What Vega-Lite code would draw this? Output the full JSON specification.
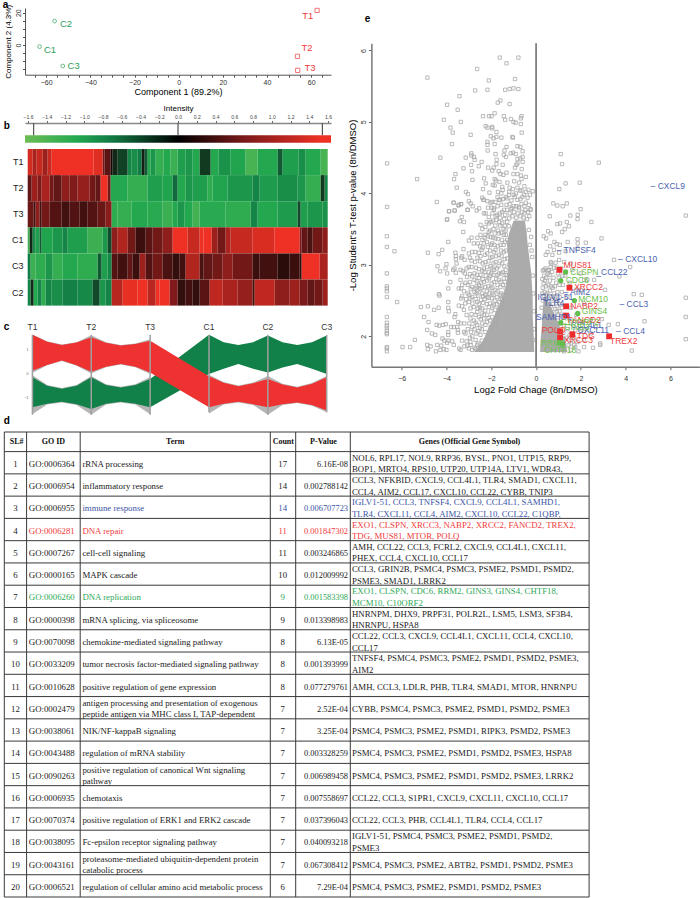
{"$schema":"https://vega.github.io/schema/vega-lite/v6.json","padding":{"left":2,"top":0,"right":0,"bottom":0},"background":"white","config":{"view":{"stroke":null},"font":"Liberation Sans","axis":{"grid":false}},
"datasets":{"tbl":[
{"t":"SL#","x":16,"p":-0.42,"a":"h","k":"n"},{"t":"GO ID","x":52.7,"p":-0.42,"a":"h","k":"n"},{"t":"Term","x":174.6,"p":-0.42,"a":"h","k":"n"},{"t":"Count","x":282.6,"p":-0.42,"a":"h","k":"n"},{"t":"P-Value","x":322.8,"p":-0.42,"a":"h","k":"n"},{"t":"Genes (Official Gene Symbol)","x":468.8,"p":-0.42,"a":"h","k":"n"},
{"t":"1","x":14.8,"p":0.55,"a":"c","k":"n"},{"t":"GO:0006364","x":28.1,"p":0.55,"a":"l","k":"n"},{"t":"rRNA processing","x":81.7,"p":0.55,"a":"l","k":"n"},{"t":"17","x":282,"p":0.55,"a":"c","k":"n"},{"t":"6.16E-08","x":347.3,"p":0.55,"a":"r","k":"n"},{"t":"NOL6, RPL17, NOL9, RRP36, BYSL, PNO1, UTP15, RRP9,","x":351.3,"p":0.28,"a":"l","k":"n"},{"t":"BOP1, MRTO4, RPS10, UTP20, UTP14A, LTV1, WDR43,","x":351.3,"p":0.8,"a":"l","k":"n"},
{"t":"2","x":14.8,"p":1.55,"a":"c","k":"n"},{"t":"GO:0006954","x":28.1,"p":1.55,"a":"l","k":"n"},{"t":"inflammatory response","x":81.7,"p":1.55,"a":"l","k":"n"},{"t":"14","x":282,"p":1.55,"a":"c","k":"n"},{"t":"0.002788142","x":347.3,"p":1.55,"a":"r","k":"n"},{"t":"CCL3, NFKBID, CXCL9, CCL4L1, TLR4, SMAD1, CXCL11,","x":351.3,"p":1.28,"a":"l","k":"n"},{"t":"CCL4, AIM2, CCL17, CXCL10, CCL22, CYBB, TNIP3","x":351.3,"p":1.8,"a":"l","k":"n"},
{"t":"3","x":14.8,"p":2.55,"a":"c","k":"n"},{"t":"GO:0006955","x":28.1,"p":2.55,"a":"l","k":"n"},{"t":"immune response","x":81.7,"p":2.55,"a":"l","k":"b"},{"t":"14","x":282,"p":2.55,"a":"c","k":"b"},{"t":"0.006707723","x":347.3,"p":2.55,"a":"r","k":"b"},{"t":"IGLV1-51, CCL3, TNFSF4, CXCL9, CCL4L1, SAMHD1,","x":351.3,"p":2.28,"a":"l","k":"b"},{"t":"TLR4, CXCL11, CCL4, AIM2, CXCL10, CCL22, C1QBP,","x":351.3,"p":2.8,"a":"l","k":"b"},
{"t":"4","x":14.8,"p":3.55,"a":"c","k":"n"},{"t":"GO:0006281","x":28.1,"p":3.55,"a":"l","k":"r"},{"t":"DNA repair","x":81.7,"p":3.55,"a":"l","k":"r"},{"t":"11","x":282,"p":3.55,"a":"c","k":"r"},{"t":"0.001847302","x":347.3,"p":3.55,"a":"r","k":"r"},{"t":"EXO1, CLSPN, XRCC3, NABP2, XRCC2, FANCD2, TREX2,","x":351.3,"p":3.28,"a":"l","k":"r"},{"t":"TDG, MUS81, MTOR, POLQ","x":351.3,"p":3.8,"a":"l","k":"r"},
{"t":"5","x":14.8,"p":4.55,"a":"c","k":"n"},{"t":"GO:0007267","x":28.1,"p":4.55,"a":"l","k":"n"},{"t":"cell-cell signaling","x":81.7,"p":4.55,"a":"l","k":"n"},{"t":"11","x":282,"p":4.55,"a":"c","k":"n"},{"t":"0.003246865","x":347.3,"p":4.55,"a":"r","k":"n"},{"t":"AMH, CCL22, CCL3, FCRL2, CXCL9, CCL4L1, CXCL11,","x":351.3,"p":4.28,"a":"l","k":"n"},{"t":"PHEX, CCL4, CXCL10, CCL17","x":351.3,"p":4.8,"a":"l","k":"n"},
{"t":"6","x":14.8,"p":5.55,"a":"c","k":"n"},{"t":"GO:0000165","x":28.1,"p":5.55,"a":"l","k":"n"},{"t":"MAPK cascade","x":81.7,"p":5.55,"a":"l","k":"n"},{"t":"10","x":282,"p":5.55,"a":"c","k":"n"},{"t":"0.012009992","x":347.3,"p":5.55,"a":"r","k":"n"},{"t":"CCL3, GRIN2B, PSMC4, PSMC3, PSME2, PSMD1, PSMD2,","x":351.3,"p":5.28,"a":"l","k":"n"},{"t":"PSME3, SMAD1, LRRK2","x":351.3,"p":5.8,"a":"l","k":"n"},
{"t":"7","x":14.8,"p":6.55,"a":"c","k":"n"},{"t":"GO:0006260","x":28.1,"p":6.55,"a":"l","k":"g"},{"t":"DNA replication","x":81.7,"p":6.55,"a":"l","k":"g"},{"t":"9","x":282,"p":6.55,"a":"c","k":"g"},{"t":"0.001583398","x":347.3,"p":6.55,"a":"r","k":"g"},{"t":"EXO1, CLSPN, CDC6, RRM2, GINS3, GINS4, CHTF18,","x":351.3,"p":6.28,"a":"l","k":"g"},{"t":"MCM10, C10ORF2","x":351.3,"p":6.8,"a":"l","k":"g"},
{"t":"8","x":14.8,"p":7.55,"a":"c","k":"n"},{"t":"GO:0000398","x":28.1,"p":7.55,"a":"l","k":"n"},{"t":"mRNA splicing, via spliceosome","x":81.7,"p":7.55,"a":"l","k":"n"},{"t":"9","x":282,"p":7.55,"a":"c","k":"n"},{"t":"0.013398983","x":347.3,"p":7.55,"a":"r","k":"n"},{"t":"HNRNPM, DHX9, PRPF31, POLR2L, LSM5, LSM3, SF3B4,","x":351.3,"p":7.28,"a":"l","k":"n"},{"t":"HNRNPU, HSPA8","x":351.3,"p":7.8,"a":"l","k":"n"},
{"t":"9","x":14.8,"p":8.55,"a":"c","k":"n"},{"t":"GO:0070098","x":28.1,"p":8.55,"a":"l","k":"n"},{"t":"chemokine-mediated signaling pathway","x":81.7,"p":8.55,"a":"l","k":"n"},{"t":"8","x":282,"p":8.55,"a":"c","k":"n"},{"t":"6.13E-05","x":347.3,"p":8.55,"a":"r","k":"n"},{"t":"CCL22, CCL3, CXCL9, CCL4L1, CXCL11, CCL4, CXCL10,","x":351.3,"p":8.28,"a":"l","k":"n"},{"t":"CCL17","x":351.3,"p":8.8,"a":"l","k":"n"},
{"t":"10","x":14.8,"p":9.55,"a":"c","k":"n"},{"t":"GO:0033209","x":28.1,"p":9.55,"a":"l","k":"n"},{"t":"tumor necrosis factor-mediated signaling pathway","x":81.7,"p":9.55,"a":"l","k":"n"},{"t":"8","x":282,"p":9.55,"a":"c","k":"n"},{"t":"0.001393999","x":347.3,"p":9.55,"a":"r","k":"n"},{"t":"TNFSF4, PSMC4, PSMC3, PSME2, PSMD1, PSMD2, PSME3,","x":351.3,"p":9.28,"a":"l","k":"n"},{"t":"AIM2","x":351.3,"p":9.8,"a":"l","k":"n"},
{"t":"11","x":14.8,"p":10.55,"a":"c","k":"n"},{"t":"GO:0010628","x":28.1,"p":10.55,"a":"l","k":"n"},{"t":"positive regulation of gene expression","x":81.7,"p":10.55,"a":"l","k":"n"},{"t":"8","x":282,"p":10.55,"a":"c","k":"n"},{"t":"0.077279761","x":347.3,"p":10.55,"a":"r","k":"n"},{"t":"AMH, CCL3, LDLR, PHB, TLR4, SMAD1, MTOR, HNRNPU","x":351.3,"p":10.55,"a":"l","k":"n"},
{"t":"12","x":14.8,"p":11.55,"a":"c","k":"n"},{"t":"GO:0002479","x":28.1,"p":11.55,"a":"l","k":"n"},{"t":"antigen processing and presentation of exogenous","x":81.7,"p":11.28,"a":"l","k":"n"},{"t":"peptide antigen via MHC class I, TAP-dependent","x":81.7,"p":11.8,"a":"l","k":"n"},{"t":"7","x":282,"p":11.55,"a":"c","k":"n"},{"t":"2.52E-04","x":347.3,"p":11.55,"a":"r","k":"n"},{"t":"CYBB, PSMC4, PSMC3, PSME2, PSMD1, PSMD2, PSME3","x":351.3,"p":11.55,"a":"l","k":"n"},
{"t":"13","x":14.8,"p":12.55,"a":"c","k":"n"},{"t":"GO:0038061","x":28.1,"p":12.55,"a":"l","k":"n"},{"t":"NIK/NF-kappaB signaling","x":81.7,"p":12.55,"a":"l","k":"n"},{"t":"7","x":282,"p":12.55,"a":"c","k":"n"},{"t":"3.25E-04","x":347.3,"p":12.55,"a":"r","k":"n"},{"t":"PSMC4, PSMC3, PSME2, PSMD1, RIPK3, PSMD2, PSME3","x":351.3,"p":12.55,"a":"l","k":"n"},
{"t":"14","x":14.8,"p":13.55,"a":"c","k":"n"},{"t":"GO:0043488","x":28.1,"p":13.55,"a":"l","k":"n"},{"t":"regulation of mRNA stability","x":81.7,"p":13.55,"a":"l","k":"n"},{"t":"7","x":282,"p":13.55,"a":"c","k":"n"},{"t":"0.003328259","x":347.3,"p":13.55,"a":"r","k":"n"},{"t":"PSMC4, PSMC3, PSME2, PSMD1, PSMD2, PSME3, HSPA8","x":351.3,"p":13.55,"a":"l","k":"n"},
{"t":"15","x":14.8,"p":14.55,"a":"c","k":"n"},{"t":"GO:0090263","x":28.1,"p":14.55,"a":"l","k":"n"},{"t":"positive regulation of canonical Wnt signaling","x":81.7,"p":14.28,"a":"l","k":"n"},{"t":"pathway","x":81.7,"p":14.8,"a":"l","k":"n"},{"t":"7","x":282,"p":14.55,"a":"c","k":"n"},{"t":"0.006989458","x":347.3,"p":14.55,"a":"r","k":"n"},{"t":"PSMC4, PSMC3, PSME2, PSMD1, PSMD2, PSME3, LRRK2","x":351.3,"p":14.55,"a":"l","k":"n"},
{"t":"16","x":14.8,"p":15.55,"a":"c","k":"n"},{"t":"GO:0006935","x":28.1,"p":15.55,"a":"l","k":"n"},{"t":"chemotaxis","x":81.7,"p":15.55,"a":"l","k":"n"},{"t":"7","x":282,"p":15.55,"a":"c","k":"n"},{"t":"0.007558697","x":347.3,"p":15.55,"a":"r","k":"n"},{"t":"CCL22, CCL3, S1PR1, CXCL9, CXCL11, CXCL10, CCL17","x":351.3,"p":15.55,"a":"l","k":"n"},
{"t":"17","x":14.8,"p":16.55,"a":"c","k":"n"},{"t":"GO:0070374","x":28.1,"p":16.55,"a":"l","k":"n"},{"t":"positive regulation of ERK1 and ERK2 cascade","x":81.7,"p":16.55,"a":"l","k":"n"},{"t":"7","x":282,"p":16.55,"a":"c","k":"n"},{"t":"0.037396043","x":347.3,"p":16.55,"a":"r","k":"n"},{"t":"CCL22, CCL3, PHB, CCL4L1, TLR4, CCL4, CCL17","x":351.3,"p":16.55,"a":"l","k":"n"},
{"t":"18","x":14.8,"p":17.55,"a":"c","k":"n"},{"t":"GO:0038095","x":28.1,"p":17.55,"a":"l","k":"n"},{"t":"Fc-epsilon receptor signaling pathway","x":81.7,"p":17.55,"a":"l","k":"n"},{"t":"7","x":282,"p":17.55,"a":"c","k":"n"},{"t":"0.040093218","x":347.3,"p":17.55,"a":"r","k":"n"},{"t":"IGLV1-51, PSMC4, PSMC3, PSME2, PSMD1, PSMD2,","x":351.3,"p":17.28,"a":"l","k":"n"},{"t":"PSME3","x":351.3,"p":17.8,"a":"l","k":"n"},
{"t":"19","x":14.8,"p":18.55,"a":"c","k":"n"},{"t":"GO:0043161","x":28.1,"p":18.55,"a":"l","k":"n"},{"t":"proteasome-mediated ubiquitin-dependent protein","x":81.7,"p":18.28,"a":"l","k":"n"},{"t":"catabolic process","x":81.7,"p":18.8,"a":"l","k":"n"},{"t":"7","x":282,"p":18.55,"a":"c","k":"n"},{"t":"0.067308412","x":347.3,"p":18.55,"a":"r","k":"n"},{"t":"PSMC4, PSMC3, PSME2, ABTB2, PSMD1, PSMD2, PSME3","x":351.3,"p":18.55,"a":"l","k":"n"},
{"t":"20","x":14.8,"p":19.55,"a":"c","k":"n"},{"t":"GO:0006521","x":28.1,"p":19.55,"a":"l","k":"n"},{"t":"regulation of cellular amino acid metabolic process","x":81.7,"p":19.55,"a":"l","k":"n"},{"t":"6","x":282,"p":19.55,"a":"c","k":"n"},{"t":"7.29E-04","x":347.3,"p":19.55,"a":"r","k":"n"},{"t":"PSMC4, PSMC3, PSME2, PSMD1, PSMD2, PSME3","x":351.3,"p":19.55,"a":"l","k":"n"}
],
"pts":[{"x":-1.62,"y":5.90},{"x":-0.79,"y":5.90},{"x":-1.32,"y":5.82},{"x":-2.63,"y":5.74},{"x":-4.85,"y":5.62},{"x":-2.11,"y":5.58},{"x":-0.94,"y":5.60},{"x":-2.72,"y":5.44},{"x":-2.17,"y":5.45},{"x":-1.38,"y":5.45},{"x":-1.18,"y":5.46},{"x":-1.01,"y":5.47},{"x":-0.79,"y":5.46},{"x":-3.42,"y":5.36},{"x":-3.97,"y":5.24},{"x":-1.71,"y":5.27},{"x":-1.59,"y":5.30},{"x":-1.18,"y":5.25},{"x":-3.50,"y":5.17},{"x":-4.12,"y":5.03},{"x":-3.36,"y":5.00},{"x":-2.37,"y":5.08},{"x":-2.10,"y":5.08},{"x":-1.99,"y":5.08},{"x":-1.85,"y":5.12},{"x":-1.44,"y":5.08},{"x":-1.38,"y":5.03},{"x":-1.12,"y":5.04},{"x":-1.01,"y":5.00},{"x":-0.91,"y":4.99},{"x":-0.68,"y":4.97},{"x":-0.65,"y":5.08},{"x":-0.68,"y":5.05},{"x":-3.82,"y":4.92},{"x":-3.72,"y":4.85},{"x":-3.76,"y":4.69},{"x":-2.92,"y":4.82},{"x":-2.25,"y":4.94},{"x":-2.17,"y":4.92},{"x":-1.96,"y":4.93},{"x":-1.96,"y":4.91},{"x":-1.77,"y":4.86},{"x":-2.02,"y":4.80},{"x":-1.90,"y":4.77},{"x":-1.77,"y":4.79},{"x":-1.55,"y":4.78},{"x":-1.06,"y":4.79},{"x":-1.03,"y":4.78},{"x":-0.64,"y":4.85},{"x":-2.17,"y":4.72},{"x":-2.17,"y":4.68},{"x":-1.85,"y":4.69},{"x":-1.32,"y":4.65},{"x":-0.83,"y":4.66},{"x":-0.70,"y":4.65},{"x":-2.16,"y":4.60},{"x":-1.81,"y":4.55},{"x":-1.44,"y":4.54},{"x":-1.41,"y":4.60},{"x":-1.34,"y":4.51},{"x":-1.13,"y":4.56},{"x":-1.03,"y":4.57},{"x":-0.91,"y":4.55},{"x":-0.60,"y":4.59},{"x":-0.71,"y":4.49},{"x":-0.60,"y":4.51},{"x":-0.83,"y":4.48},{"x":-2.89,"y":4.56},{"x":-2.89,"y":4.53},{"x":-2.77,"y":4.51},{"x":-2.74,"y":4.47},{"x":-3.14,"y":4.50},{"x":-4.27,"y":4.50},{"x":-6.65,"y":4.42},{"x":-1.76,"y":4.47},{"x":-2.43,"y":4.44},{"x":-2.90,"y":4.40},{"x":-2.56,"y":4.38},{"x":-1.77,"y":4.41},{"x":-1.49,"y":4.40},{"x":-0.83,"y":4.42},{"x":-0.88,"y":4.40},{"x":-0.94,"y":4.36},{"x":-0.60,"y":4.44},{"x":-0.64,"y":4.34},{"x":-3.24,"y":4.35},{"x":-2.86,"y":4.31},{"x":-2.14,"y":4.36},{"x":-1.89,"y":4.36},{"x":-1.96,"y":4.32},{"x":-1.67,"y":4.31},{"x":-1.59,"y":4.27},{"x":-3.60,"y":4.27},{"x":-5.31,"y":4.20},{"x":-3.66,"y":4.20},{"x":-2.84,"y":4.19},{"x":-2.32,"y":4.21},{"x":-2.25,"y":4.14},{"x":-1.85,"y":4.20},{"x":-1.79,"y":4.18},{"x":-1.63,"y":4.16},{"x":-1.32,"y":4.29},{"x":-1.46,"y":4.26},{"x":-1.01,"y":4.27},{"x":-0.83,"y":4.27},{"x":-0.68,"y":4.25},{"x":-0.46,"y":4.23},{"x":-0.65,"y":4.20},{"x":-1.28,"y":4.15},{"x":-0.98,"y":4.17},{"x":-0.76,"y":4.15},{"x":-0.52,"y":4.10},{"x":-1.93,"y":4.12},{"x":-1.85,"y":4.11},{"x":-1.51,"y":4.09},{"x":-1.18,"y":4.08},{"x":-0.83,"y":4.08},{"x":-2.37,"y":4.06},{"x":-3.13,"y":4.02},{"x":-3.04,"y":3.99},{"x":-3.54,"y":4.08},{"x":-1.70,"y":4.02},{"x":-1.49,"y":4.05},{"x":-1.04,"y":4.06},{"x":-0.65,"y":4.04},{"x":-0.34,"y":4.05},{"x":-0.15,"y":4.03},{"x":-0.27,"y":3.98},{"x":-2.08,"y":4.01},{"x":-4.43,"y":3.88},{"x":-3.68,"y":3.87},{"x":-3.36,"y":3.85},{"x":-3.46,"y":3.84},{"x":-3.88,"y":3.75},{"x":-3.63,"y":3.76},{"x":-6.65,"y":3.81},{"x":-3.00,"y":3.89},{"x":-2.92,"y":3.86},{"x":-2.83,"y":3.82},{"x":-3.05,"y":3.77},{"x":-2.65,"y":3.76},{"x":-2.54,"y":3.79},{"x":-2.40,"y":3.94},{"x":-2.35,"y":3.91},{"x":-2.17,"y":3.89},{"x":-1.95,"y":3.88},{"x":-1.65,"y":3.91},{"x":-1.35,"y":3.95},{"x":-1.21,"y":3.98},{"x":-0.83,"y":3.91},{"x":-0.61,"y":3.95},{"x":-0.46,"y":3.87},{"x":-1.88,"y":3.79},{"x":-1.43,"y":3.77},{"x":-1.13,"y":3.78},{"x":-0.76,"y":3.79},{"x":-0.24,"y":3.78},{"x":-2.25,"y":3.72},{"x":-1.80,"y":3.68},{"x":-3.32,"y":3.67},{"x":-3.97,"y":3.64},
{"x":1.10,"y":4.55},{"x":1.16,"y":4.41},{"x":2.80,"y":4.43},{"x":1.32,"y":4.14},{"x":1.95,"y":4.15},{"x":1.04,"y":4.06},{"x":0.77,"y":3.86},{"x":0.95,"y":3.83},{"x":1.19,"y":3.82},{"x":1.37,"y":3.86},{"x":1.99,"y":3.78},{"x":1.86,"y":3.70},{"x":1.53,"y":3.69},{"x":0.61,"y":3.68},{"x":6.68,"y":3.69},
{"x":0.95,"y":3.57},{"x":1.07,"y":3.58},{"x":1.37,"y":3.60},{"x":1.85,"y":3.64},{"x":2.47,"y":3.60},{"x":1.47,"y":3.54},{"x":1.28,"y":3.50},{"x":1.16,"y":3.46},{"x":0.54,"y":3.47},{"x":0.65,"y":3.44},{"x":0.34,"y":3.40},{"x":0.45,"y":3.37},{"x":0.82,"y":3.32},{"x":0.92,"y":3.29},{"x":1.06,"y":3.28},{"x":1.41,"y":3.32},{"x":1.85,"y":3.36},{"x":1.86,"y":3.30},{"x":2.22,"y":3.31},{"x":2.92,"y":3.37},{"x":1.32,"y":3.19},{"x":1.85,"y":3.23},{"x":0.63,"y":3.26},{"x":0.80,"y":3.21},{"x":0.51,"y":3.18},{"x":0.43,"y":3.14},{"x":0.73,"y":3.14},{"x":1.03,"y":3.17},{"x":3.48,"y":3.07},{"x":4.20,"y":2.97},{"x":3.72,"y":2.84},{"x":2.59,"y":2.79},{"x":3.08,"y":2.65},{"x":4.36,"y":2.59},{"x":4.72,"y":2.58},{"x":6.68,"y":2.54},{"x":6.68,"y":2.27},{"x":6.68,"y":1.96},{"x":4.84,"y":2.21},{"x":3.65,"y":2.17},{"x":3.24,"y":2.16},{"x":2.93,"y":2.24},{"x":2.86,"y":1.90},{"x":2.86,"y":1.88},{"x":2.54,"y":1.84},{"x":4.27,"y":1.80},{"x":1.89,"y":1.79},{"x":1.55,"y":1.81},{"x":2.14,"y":2.46},{"x":1.99,"y":2.65},{"x":2.14,"y":2.79},{"x":1.55,"y":3.02},{"x":1.25,"y":3.04},{"x":1.03,"y":3.07},{"x":0.65,"y":3.04},{"x":0.36,"y":2.93},{"x":0.51,"y":2.92},{"x":0.65,"y":2.97},{"x":1.62,"y":2.93},{"x":1.99,"y":2.88},{"x":2.29,"y":2.79},{"x":2.44,"y":2.23},{"x":2.66,"y":2.13},{"x":2.14,"y":2.06},{"x":2.44,"y":2.04},{"x":2.14,"y":1.95},{"x":1.70,"y":1.88},{"x":2.14,"y":1.85},{"x":1.25,"y":1.79},{"x":1.55,"y":1.95},
{"x":0.30,"y":2.92},{"x":0.36,"y":2.85},{"x":0.42,"y":2.95},{"x":0.45,"y":2.82},{"x":0.52,"y":2.88},{"x":0.57,"y":2.93},{"x":0.62,"y":2.78},{"x":0.68,"y":3.02},{"x":0.72,"y":2.9},{"x":0.78,"y":2.82},{"x":0.80,"y":2.96},{"x":0.87,"y":3.03},{"x":0.9,"y":2.75},{"x":0.98,"y":2.88},{"x":1.05,"y":2.72},{"x":0.3,"y":2.68},{"x":0.38,"y":2.62},{"x":0.44,"y":2.7},{"x":0.5,"y":2.6},{"x":0.55,"y":2.72},{"x":0.62,"y":2.64},{"x":0.68,"y":2.55},{"x":0.74,"y":2.68},{"x":0.8,"y":2.6},{"x":0.88,"y":2.5},{"x":0.95,"y":2.62},{"x":1.05,"y":2.55},{"x":1.15,"y":2.62},{"x":0.3,"y":2.5},{"x":0.42,"y":2.52},{"x":0.55,"y":2.45},{"x":0.65,"y":2.42},{"x":0.75,"y":2.45},{"x":0.85,"y":2.38},{"x":0.95,"y":2.42},{"x":1.05,"y":2.35},{"x":1.15,"y":2.4},{"x":1.25,"y":2.3},{"x":0.95,"y":2.22},{"x":1.1,"y":2.18},{"x":1.25,"y":2.15},{"x":1.4,"y":2.1},{"x":1.5,"y":2.02},{"x":1.6,"y":2.22},{"x":1.75,"y":2.08},{"x":1.85,"y":1.92},{"x":1.7,"y":1.98},{"x":2.0,"y":2.1},{"x":1.55,"y":1.9},{"x":1.75,"y":1.85},{"x":2.05,"y":2.2},{"x":1.2,"y":2.72},{"x":1.4,"y":2.55},{"x":1.55,"y":2.4},{"x":1.8,"y":2.3},{"x":1.3,"y":2.85},{"x":1.5,"y":2.75},{"x":1.8,"y":2.65},
{"x":-6.66,"y":3.40},{"x":-6.66,"y":3.25},{"x":-6.32,"y":3.19},{"x":-6.66,"y":2.88},{"x":-6.66,"y":2.70},{"x":-6.66,"y":2.67},{"x":-6.66,"y":2.63},{"x":-6.66,"y":2.55},{"x":-6.20,"y":2.48},{"x":-6.66,"y":2.27},{"x":-6.66,"y":2.19},{"x":-6.66,"y":2.15},{"x":-6.66,"y":2.12},{"x":-6.66,"y":2.08},{"x":-6.66,"y":2.05},{"x":-6.66,"y":2.03},{"x":-6.66,"y":1.85},{"x":-6.66,"y":1.83},{"x":-6.66,"y":1.79},{"x":-5.96,"y":1.85},{"x":-5.62,"y":1.85},{"x":-5.41,"y":1.95},{"x":-3.98,"y":3.63},{"x":-3.89,"y":3.75},{"x":-3.68,"y":3.87},{"x":-3.64,"y":3.76},{"x":-3.46,"y":3.83},{"x":-3.34,"y":3.85},{"x":-3.40,"y":3.61},{"x":-3.22,"y":3.60},{"x":-3.06,"y":3.77},{"x":-3.25,"y":3.46},{"x":-3.92,"y":3.32},{"x":-4.83,"y":3.17},{"x":-4.19,"y":3.21},{"x":-4.35,"y":3.15},{"x":-3.24,"y":3.22},{"x":-3.00,"y":3.34},{"x":-2.88,"y":3.38},{"x":-4.40,"y":2.98},{"x":-4.28,"y":2.91},{"x":-4.00,"y":3.01},{"x":-4.04,"y":2.95},{"x":-3.97,"y":2.88},{"x":-3.83,"y":2.76},{"x":-3.92,"y":2.67},{"x":-4.34,"y":2.59},{"x":-4.31,"y":2.57},{"x":-3.92,"y":2.48},{"x":-5.14,"y":2.41},{"x":-4.83,"y":2.42},{"x":-4.35,"y":2.40},{"x":-4.55,"y":2.37},{"x":-3.92,"y":2.40},{"x":-3.89,"y":2.35},{"x":-5.00,"y":2.27},{"x":-4.80,"y":2.20},{"x":-4.86,"y":2.09},{"x":-4.65,"y":2.04},{"x":-4.50,"y":2.02},{"x":-4.44,"y":2.16},{"x":-4.32,"y":2.15},{"x":-4.15,"y":2.16},{"x":-4.03,"y":2.17},{"x":-4.86,"y":1.88},{"x":-4.71,"y":1.86},{"x":-4.83,"y":1.82},{"x":-4.47,"y":1.79},{"x":-4.41,"y":1.88},{"x":-4.23,"y":1.87},{"x":-4.27,"y":1.81},{"x":-4.12,"y":1.82},{"x":-4.00,"y":1.81},{"x":-4.18,"y":1.97},{"x":-4.09,"y":1.94},{"x":-3.92,"y":2.06},{"x":-3.92,"y":2.02},{"x":-3.91,"y":1.94},{"x":-3.97,"y":1.91},{"x":-3.79,"y":2.13},{"x":-3.74,"y":1.93},{"x":-3.67,"y":1.88},{"x":-3.67,"y":2.13},{"x":-3.60,"y":2.31},{"x":-3.64,"y":2.27},{"x":-3.48,"y":2.20},{"x":-3.52,"y":2.13},{"x":-3.49,"y":2.09},{"x":-3.37,"y":2.18},{"x":-3.37,"y":1.81},{"x":-3.43,"y":1.83},{"x":-3.49,"y":2.05},{"x":-3.22,"y":2.06},{"x":-3.15,"y":2.04},{"x":-3.30,"y":1.94},{"x":-3.07,"y":1.87},{"x":-2.93,"y":1.92},{"x":-2.85,"y":1.81},{"x":-2.75,"y":1.84},{"x":-2.63,"y":1.88},{"x":-2.48,"y":1.85},
{"x":-3.60,"y":3.17},{"x":-3.58,"y":3.12},{"x":-3.58,"y":3.08},{"x":-3.55,"y":3.02},{"x":-3.34,"y":3.10},{"x":-3.30,"y":3.12},{"x":-3.19,"y":3.07},{"x":-3.00,"y":3.16},{"x":-2.88,"y":3.06},{"x":-2.85,"y":3.18},{"x":-2.55,"y":3.17},{"x":-2.43,"y":3.21},{"x":-3.70,"y":2.93},{"x":-3.64,"y":2.95},{"x":-3.58,"y":2.89},{"x":-3.37,"y":2.93},{"x":-3.27,"y":2.91},{"x":-3.18,"y":2.88},{"x":-3.00,"y":2.97},{"x":-2.88,"y":2.97},{"x":-2.95,"y":2.87},{"x":-2.85,"y":2.84},{"x":-2.63,"y":2.86},{"x":-2.55,"y":2.82},{"x":-3.37,"y":2.79},{"x":-3.30,"y":2.72},{"x":-3.45,"y":2.67},{"x":-3.34,"y":2.67},{"x":-2.85,"y":2.69},{"x":-2.75,"y":2.79},{"x":-2.70,"y":2.67},{"x":-2.55,"y":2.72},{"x":-2.48,"y":2.66},{"x":-2.33,"y":2.76},{"x":-2.26,"y":2.69},{"x":-3.30,"y":2.56},{"x":-3.34,"y":2.53},{"x":-2.93,"y":2.53},{"x":-3.00,"y":2.48},{"x":-2.85,"y":2.55},{"x":-2.66,"y":2.60},{"x":-2.63,"y":2.48},{"x":-2.45,"y":2.51},{"x":-2.26,"y":2.58},{"x":-3.45,"y":2.43},{"x":-3.30,"y":2.42},{"x":-3.22,"y":2.37},{"x":-2.93,"y":2.39},{"x":-2.78,"y":2.41},{"x":-2.63,"y":2.34},{"x":-2.40,"y":2.39},{"x":-2.93,"y":2.25},{"x":-2.78,"y":2.22},{"x":-2.55,"y":2.27},{"x":-2.33,"y":2.30},{"x":-2.85,"y":2.13},{"x":-2.63,"y":2.16},{"x":-2.40,"y":2.18},{"x":-2.18,"y":2.20},{"x":-2.85,"y":2.00},{"x":-2.66,"y":2.04},{"x":-2.48,"y":2.02},{"x":-2.26,"y":2.06},
{"x":-2.48,"y":3.42},{"x":-2.26,"y":3.42},{"x":-2.11,"y":3.46},{"x":-2.03,"y":3.39},{"x":-2.78,"y":3.30},{"x":-2.60,"y":3.30},{"x":-2.33,"y":3.30},{"x":-2.15,"y":3.25},{"x":-1.96,"y":3.30},{"x":-1.81,"y":3.37},{"x":-1.66,"y":3.44},{"x":-1.44,"y":3.42},{"x":-1.29,"y":3.35},{"x":-1.59,"y":3.28},{"x":-1.81,"y":3.21},{"x":-2.18,"y":3.16},{"x":-1.96,"y":3.11},{"x":-1.66,"y":3.14},{"x":-1.44,"y":3.18},{"x":-2.26,"y":3.04},{"x":-2.03,"y":2.98},{"x":-1.81,"y":3.04},{"x":-1.51,"y":3.02},{"x":-1.29,"y":3.09},{"x":-2.33,"y":2.95},{"x":-2.11,"y":2.90},{"x":-1.88,"y":2.93},{"x":-1.66,"y":2.88},{"x":-1.36,"y":2.93},{"x":-1.21,"y":3.00},{"x":-2.11,"y":2.81},{"x":-1.88,"y":2.76},{"x":-1.66,"y":2.79},{"x":-1.44,"y":2.81},{"x":-1.21,"y":2.79},{"x":-2.03,"y":2.67},{"x":-1.81,"y":2.65},{"x":-1.59,"y":2.69},{"x":-1.36,"y":2.67},{"x":-2.18,"y":2.55},{"x":-1.96,"y":2.53},{"x":-1.73,"y":2.55},{"x":-1.51,"y":2.51},{"x":-2.11,"y":2.41},{"x":-1.88,"y":2.44},{"x":-1.66,"y":2.39},{"x":-2.18,"y":2.30},{"x":-1.96,"y":2.27},{"x":-1.73,"y":2.31},{"x":-2.26,"y":2.16},{"x":-2.03,"y":2.13},{"x":-1.81,"y":2.16},
{"x":-2.33,"y":3.91},{"x":-2.03,"y":3.87},{"x":-1.81,"y":3.88},{"x":-1.59,"y":3.91},{"x":-1.29,"y":3.93},{"x":-1.0,"y":3.98},{"x":-2.33,"y":3.72},{"x":-2.11,"y":3.67},{"x":-1.88,"y":3.77},{"x":-1.73,"y":3.70},{"x":-1.51,"y":3.74},{"x":-1.29,"y":3.77},{"x":-1.06,"y":3.79},{"x":-0.77,"y":3.81},{"x":-0.47,"y":3.77},{"x":-0.25,"y":3.77},{"x":-2.0,"y":3.60},{"x":-1.77,"y":3.63},{"x":-1.51,"y":3.58},{"x":-1.29,"y":3.60},{"x":-2.48,"y":3.56},{"x":-2.26,"y":3.53},{"x":-0.32,"y":3.49},{"x":-0.22,"y":3.39},{"x":-0.28,"y":3.28},{"x":-0.17,"y":3.11},{"x":-1.6,"y":3.55},{"x":-1.45,"y":3.5},{"x":-1.7,"y":3.48},{"x":-1.9,"y":3.5},{"x":-2.2,"y":3.6},{"x":-2.4,"y":3.35},{"x":-2.05,"y":3.2},{"x":-2.5,"y":3.05},{"x":-2.4,"y":2.92},{"x":-2.25,"y":2.85},{"x":-2.45,"y":2.75},{"x":-2.0,"y":2.88},{"x":-1.75,"y":2.95},{"x":-1.55,"y":2.88},{"x":-1.95,"y":2.6},{"x":-1.75,"y":2.45},{"x":-1.55,"y":2.6},{"x":-1.5,"y":2.4},{"x":-2.4,"y":2.6},{"x":-2.2,"y":2.45},{"x":-2.0,"y":2.35},{"x":-2.05,"y":2.22},{"x":-2.5,"y":2.4},{"x":-2.65,"y":2.7},{"x":-3.05,"y":2.6},{"x":-3.15,"y":2.75},{"x":-3.1,"y":2.3},{"x":-3.2,"y":2.18},{"x":-3.05,"y":2.1},{"x":-2.7,"y":2.3},{"x":-2.5,"y":2.12},{"x":-2.95,"y":1.98},{"x":-2.7,"y":1.95},{"x":-3.1,"y":1.93},{"x":-0.12,"y":2.6},{"x":-0.1,"y":2.35},{"x":-0.08,"y":2.1},{"x":-0.15,"y":2.85},{"x":-0.2,"y":3.2},{"x":-0.13,"y":1.95},
{"x":-3.2,"y":1.86},{"x":-3.0,"y":1.83},{"x":-2.92,"y":1.88},{"x":-2.7,"y":1.82},{"x":-2.58,"y":1.9},{"x":-2.42,"y":1.94},{"x":-2.9,"y":2.06},{"x":-2.75,"y":2.1},{"x":-2.58,"y":2.07},{"x":-2.42,"y":2.1},{"x":-2.98,"y":2.18},{"x":-2.7,"y":2.19},{"x":-2.47,"y":2.24},{"x":-2.32,"y":2.25},{"x":-2.12,"y":2.26},{"x":-2.88,"y":2.31},{"x":-2.6,"y":2.39},{"x":-2.42,"y":2.32},{"x":-2.27,"y":2.36},{"x":-2.06,"y":2.46},{"x":-1.95,"y":2.42},{"x":-1.82,"y":2.37},{"x":-3.16,"y":2.46},{"x":-2.84,"y":2.46},{"x":-2.7,"y":2.52},{"x":-2.55,"y":2.45},{"x":-2.36,"y":2.47},{"x":-2.29,"y":2.52},{"x":-2.12,"y":2.54},{"x":-1.85,"y":2.5},{"x":-1.65,"y":2.48},{"x":-1.58,"y":2.52},{"x":-3.12,"y":2.52},{"x":-2.98,"y":2.58},{"x":-2.75,"y":2.62},{"x":-2.58,"y":2.57},{"x":-2.36,"y":2.56},{"x":-2.2,"y":2.63},{"x":-2.08,"y":2.6},{"x":-1.9,"y":2.58},{"x":-1.72,"y":2.63},{"x":-1.62,"y":2.58},{"x":-1.45,"y":2.58},{"x":-3.22,"y":2.63},{"x":-2.92,"y":2.66},{"x":-2.62,"y":2.64},{"x":-2.42,"y":2.68},{"x":-2.14,"y":2.7},{"x":-1.95,"y":2.68},{"x":-1.72,"y":2.72},{"x":-1.48,"y":2.72},{"x":-1.4,"y":2.76},{"x":-3.05,"y":2.72},{"x":-2.95,"y":2.76},{"x":-2.65,"y":2.77},{"x":-2.38,"y":2.8},{"x":-2.18,"y":2.78},{"x":-1.98,"y":2.74},{"x":-1.78,"y":2.8},{"x":-1.58,"y":2.76},{"x":-1.35,"y":2.86},{"x":-3.08,"y":2.83},{"x":-2.75,"y":2.88},{"x":-2.48,"y":2.86},{"x":-2.3,"y":2.9},{"x":-2.05,"y":2.84},{"x":-1.9,"y":2.86},{"x":-1.72,"y":2.86},{"x":-1.48,"y":2.9},{"x":-1.28,"y":2.86},{"x":-3.1,"y":2.95},{"x":-2.68,"y":2.96},{"x":-2.55,"y":2.94},{"x":-2.18,"y":2.97},{"x":-1.95,"y":2.95},{"x":-1.68,"y":2.98},{"x":-1.42,"y":2.98},{"x":-2.95,"y":3.1},{"x":-2.72,"y":3.04},{"x":-2.62,"y":3.1},{"x":-2.38,"y":3.02},{"x":-2.12,"y":3.05},{"x":-1.9,"y":3.02},{"x":-1.62,"y":3.05},{"x":-1.4,"y":3.08},{"x":-2.72,"y":3.18},{"x":-2.48,"y":3.12},{"x":-2.28,"y":3.14},{"x":-2.04,"y":3.1},{"x":-1.78,"y":3.12},{"x":-1.54,"y":3.12},{"x":-1.88,"y":3.18},{"x":-1.56,"y":3.2},{"x":-1.35,"y":3.2},{"x":-2.5,"y":3.26},{"x":-2.38,"y":3.24},{"x":-2.2,"y":3.32},{"x":-2.02,"y":3.28},{"x":-1.86,"y":3.28},{"x":-1.7,"y":3.26},{"x":-1.45,"y":3.28},{"x":-1.38,"y":3.32},{"x":-2.62,"y":3.38},{"x":-2.3,"y":3.38},{"x":-2.15,"y":3.4},{"x":-1.92,"y":3.38},{"x":-1.7,"y":3.36},{"x":-1.52,"y":3.35},{"x":-1.35,"y":3.42},{"x":-2.05,"y":3.48},{"x":-1.85,"y":3.44},{"x":-1.55,"y":3.45},{"x":-1.36,"y":3.48},{"x":-2.4,"y":3.5},{"x":-1.82,"y":3.55},{"x":-1.65,"y":3.6},{"x":-1.4,"y":3.55},{"x":-1.22,"y":3.54},{"x":-2.1,"y":3.58},{"x":-1.92,"y":3.62},{"x":-1.6,"y":3.66},{"x":-1.42,"y":3.64},{"x":-1.2,"y":3.65},{"x":-1.05,"y":3.68},{"x":-0.88,"y":3.66},{"x":-0.7,"y":3.68},{"x":-0.56,"y":3.66},{"x":-0.4,"y":3.64},{"x":-0.3,"y":3.68},{"x":-1.95,"y":3.72},{"x":-1.62,"y":3.72},{"x":-1.38,"y":3.7},{"x":-1.18,"y":3.72},{"x":-0.98,"y":3.74},{"x":-0.82,"y":3.72},{"x":-0.62,"y":3.74},{"x":-0.52,"y":3.72},{"x":-0.36,"y":3.74},{"x":-2.15,"y":3.8},{"x":-1.98,"y":3.8},{"x":-1.72,"y":3.82},{"x":-1.55,"y":3.84},{"x":-1.32,"y":3.84},{"x":-1.18,"y":3.85},{"x":-1.0,"y":3.82},{"x":-0.88,"y":3.82},{"x":-0.65,"y":3.85},{"x":-0.52,"y":3.82},{"x":-0.32,"y":3.84},{"x":-1.72,"y":3.95},{"x":-1.48,"y":3.92},{"x":-1.1,"y":3.9},{"x":-0.95,"y":3.95},{"x":-0.7,"y":3.92},{"x":-0.54,"y":3.98},{"x":-0.38,"y":3.94},{"x":-1.55,"y":4.0},{"x":-1.2,"y":4.02},{"x":-0.9,"y":4.0},{"x":-0.72,"y":4.04},{"x":-0.45,"y":4.02},
{"x":0.28,"y":2.6},{"x":0.35,"y":2.56},{"x":0.46,"y":2.58},{"x":0.6,"y":2.56},{"x":0.72,"y":2.52},{"x":0.85,"y":2.56},{"x":0.95,"y":2.5},{"x":1.05,"y":2.45},{"x":1.0,"y":2.3},{"x":1.15,"y":2.28},{"x":0.92,"y":2.35},{"x":1.22,"y":2.05},{"x":1.35,"y":1.98},{"x":1.45,"y":1.88},{"x":0.34,"y":2.74},{"x":0.4,"y":2.78},{"x":0.28,"y":2.8},{"x":0.66,"y":2.7},{"x":0.84,"y":2.7},{"x":1.02,"y":2.82},{"x":1.12,"y":2.95},{"x":1.18,"y":2.85},{"x":0.6,"y":2.86},{"x":0.92,"y":2.96},{"x":0.25,"y":2.4}],
"hm":[{"r":"T1","a":0,"b":5,"v":1.2},{"r":"T1","a":5,"b":9,"v":0.9},{"r":"T1","a":9,"b":15,"v":1.1},{"r":"T1","a":15,"b":20,"v":0.8},{"r":"T1","a":20,"b":24,"v":1.1},{"r":"T1","a":24,"b":66,"v":1.55},{"r":"T1","a":66,"b":75,"v":1.3},{"r":"T1","a":75,"b":77,"v":0.5},{"r":"T1","a":77,"b":83,"v":0.35},{"r":"T1","a":83,"b":85,"v":-0.1},{"r":"T1","a":85,"b":90,"v":-0.3},{"r":"T1","a":90,"b":100,"v":-0.45},{"r":"T1","a":100,"b":104,"v":-0.9},{"r":"T1","a":104,"b":110,"v":-1.0},{"r":"T1","a":110,"b":114,"v":-0.8},{"r":"T1","a":114,"b":117,"v":-0.25},{"r":"T1","a":117,"b":120,"v":-0.6},{"r":"T1","a":120,"b":123,"v":-1.3},{"r":"T1","a":123,"b":128,"v":-1.1},{"r":"T1","a":128,"b":136,"v":-1.45},{"r":"T1","a":136,"b":143,"v":-1.3},{"r":"T1","a":143,"b":150,"v":-1.5},{"r":"T1","a":150,"b":158,"v":-1.2},{"r":"T1","a":158,"b":165,"v":-1.1},{"r":"T1","a":165,"b":172,"v":-1.3},{"r":"T1","a":172,"b":183,"v":-0.4},{"r":"T1","a":183,"b":191,"v":-1.3},{"r":"T1","a":191,"b":203,"v":-1.05},{"r":"T1","a":203,"b":218,"v":-1.25},{"r":"T1","a":218,"b":230,"v":-1.6},{"r":"T1","a":230,"b":250,"v":-1.3},{"r":"T1","a":250,"b":255,"v":-0.6},{"r":"T1","a":255,"b":271,"v":-1.2},{"r":"T1","a":271,"b":278,"v":-1.0},{"r":"T1","a":278,"b":293,"v":-1.3},{"r":"T1","a":293,"b":300,"v":-1.6},
{"r":"T2","a":0,"b":4,"v":0.4},{"r":"T2","a":4,"b":10,"v":0.8},{"r":"T2","a":10,"b":14,"v":0.6},{"r":"T2","a":14,"b":22,"v":0.9},{"r":"T2","a":22,"b":26,"v":0.5},{"r":"T2","a":26,"b":34,"v":0.4},{"r":"T2","a":34,"b":42,"v":0.7},{"r":"T2","a":42,"b":50,"v":0.6},{"r":"T2","a":50,"b":62,"v":0.75},{"r":"T2","a":62,"b":68,"v":0.5},{"r":"T2","a":68,"b":73,"v":0.4},{"r":"T2","a":73,"b":80,"v":1.55},{"r":"T2","a":80,"b":83,"v":0.5},{"r":"T2","a":83,"b":100,"v":-1.3},{"r":"T2","a":100,"b":120,"v":-1.45},{"r":"T2","a":120,"b":135,"v":-1.2},{"r":"T2","a":135,"b":145,"v":-1.25},{"r":"T2","a":145,"b":150,"v":-0.7},{"r":"T2","a":150,"b":158,"v":-1.3},{"r":"T2","a":158,"b":165,"v":-1.1},{"r":"T2","a":165,"b":180,"v":-1.2},{"r":"T2","a":180,"b":185,"v":-1.4},{"r":"T2","a":185,"b":200,"v":-1.25},{"r":"T2","a":200,"b":225,"v":-1.1},{"r":"T2","a":225,"b":232,"v":-0.9},{"r":"T2","a":232,"b":250,"v":-1.15},{"r":"T2","a":250,"b":270,"v":-1.0},{"r":"T2","a":270,"b":278,"v":-1.1},{"r":"T2","a":278,"b":293,"v":-1.45},{"r":"T2","a":293,"b":297,"v":-0.4},{"r":"T2","a":297,"b":300,"v":-0.9},
{"r":"T3","a":0,"b":6,"v":0.45},{"r":"T3","a":6,"b":8,"v":0.2},{"r":"T3","a":8,"b":12,"v":0.7},{"r":"T3","a":12,"b":14,"v":0.2},{"r":"T3","a":14,"b":22,"v":0.5},{"r":"T3","a":22,"b":34,"v":0.3},{"r":"T3","a":34,"b":42,"v":0.2},{"r":"T3","a":42,"b":52,"v":0.3},{"r":"T3","a":52,"b":60,"v":0.2},{"r":"T3","a":60,"b":70,"v":0.3},{"r":"T3","a":70,"b":78,"v":0.45},{"r":"T3","a":78,"b":84,"v":0.65},{"r":"T3","a":84,"b":90,"v":-1.4},{"r":"T3","a":90,"b":104,"v":-1.45},{"r":"T3","a":104,"b":120,"v":-1.3},{"r":"T3","a":120,"b":135,"v":-1.35},{"r":"T3","a":135,"b":145,"v":-1.5},{"r":"T3","a":145,"b":150,"v":-1.3},{"r":"T3","a":150,"b":157,"v":-1.1},{"r":"T3","a":157,"b":165,"v":-1.3},{"r":"T3","a":165,"b":172,"v":-1.55},{"r":"T3","a":172,"b":198,"v":-1.35},{"r":"T3","a":198,"b":223,"v":-1.4},{"r":"T3","a":223,"b":230,"v":-0.9},{"r":"T3","a":230,"b":250,"v":-1.3},{"r":"T3","a":250,"b":270,"v":-1.15},{"r":"T3","a":270,"b":273,"v":-0.5},{"r":"T3","a":273,"b":280,"v":-1.2},{"r":"T3","a":280,"b":295,"v":-1.1},{"r":"T3","a":295,"b":300,"v":-1.05},
{"r":"C1","a":0,"b":2,"v":-1.6},{"r":"C1","a":2,"b":5,"v":-0.3},{"r":"C1","a":5,"b":8,"v":-1},{"r":"C1","a":8,"b":12,"v":-1.2},{"r":"C1","a":12,"b":14,"v":-0.6},{"r":"C1","a":14,"b":25,"v":-1.25},{"r":"C1","a":25,"b":35,"v":-1.1},{"r":"C1","a":35,"b":40,"v":-0.9},{"r":"C1","a":40,"b":60,"v":-1.2},{"r":"C1","a":60,"b":75,"v":-1.5},{"r":"C1","a":75,"b":80,"v":-1.1},{"r":"C1","a":80,"b":84,"v":-0.5},{"r":"C1","a":84,"b":90,"v":0.7},{"r":"C1","a":90,"b":100,"v":0.95},{"r":"C1","a":100,"b":108,"v":0.5},{"r":"C1","a":108,"b":118,"v":0.15},{"r":"C1","a":118,"b":125,"v":0.35},{"r":"C1","a":125,"b":135,"v":0.5},{"r":"C1","a":135,"b":145,"v":0.7},{"r":"C1","a":145,"b":160,"v":1.55},{"r":"C1","a":160,"b":172,"v":1.1},{"r":"C1","a":172,"b":176,"v":1.5},{"r":"C1","a":176,"b":184,"v":1.55},{"r":"C1","a":184,"b":190,"v":0.8},{"r":"C1","a":190,"b":198,"v":0.5},{"r":"C1","a":198,"b":203,"v":0.9},{"r":"C1","a":203,"b":225,"v":1.1},{"r":"C1","a":225,"b":247,"v":1.25},{"r":"C1","a":247,"b":272,"v":1.45},{"r":"C1","a":272,"b":274,"v":0.6},{"r":"C1","a":274,"b":280,"v":0.4},{"r":"C1","a":280,"b":285,"v":0.25},{"r":"C1","a":285,"b":295,"v":0.5},{"r":"C1","a":295,"b":300,"v":0.7},
{"r":"C3","a":0,"b":3,"v":-0.8},{"r":"C3","a":3,"b":8,"v":-1.5},{"r":"C3","a":8,"b":18,"v":-1.4},{"r":"C3","a":18,"b":25,"v":-1.1},{"r":"C3","a":25,"b":35,"v":-1.45},{"r":"C3","a":35,"b":50,"v":-1.3},{"r":"C3","a":50,"b":70,"v":-1.4},{"r":"C3","a":70,"b":74,"v":-0.6},{"r":"C3","a":74,"b":80,"v":-1.2},{"r":"C3","a":80,"b":84,"v":-0.9},{"r":"C3","a":84,"b":90,"v":0.3},{"r":"C3","a":90,"b":100,"v":0.2},{"r":"C3","a":100,"b":105,"v":0.4},{"r":"C3","a":105,"b":112,"v":0.15},{"r":"C3","a":112,"b":118,"v":0.8},{"r":"C3","a":118,"b":125,"v":0.3},{"r":"C3","a":125,"b":135,"v":0.5},{"r":"C3","a":135,"b":145,"v":0.25},{"r":"C3","a":145,"b":152,"v":0.1},{"r":"C3","a":152,"b":158,"v":0.2},{"r":"C3","a":158,"b":172,"v":0.95},{"r":"C3","a":172,"b":176,"v":0.25},{"r":"C3","a":176,"b":185,"v":0.4},{"r":"C3","a":185,"b":195,"v":0.5},{"r":"C3","a":195,"b":205,"v":0.7},{"r":"C3","a":205,"b":225,"v":0.5},{"r":"C3","a":225,"b":232,"v":0.15},{"r":"C3","a":232,"b":250,"v":0.2},{"r":"C3","a":250,"b":262,"v":0.05},{"r":"C3","a":262,"b":272,"v":0.15},{"r":"C3","a":272,"b":274,"v":0.05},{"r":"C3","a":274,"b":292,"v":1.5},{"r":"C3","a":292,"b":300,"v":0.9},
{"r":"C2","a":0,"b":3,"v":-0.9},{"r":"C2","a":3,"b":6,"v":-0.3},{"r":"C2","a":6,"b":10,"v":-1.3},{"r":"C2","a":10,"b":14,"v":-0.9},{"r":"C2","a":14,"b":18,"v":-1.4},{"r":"C2","a":18,"b":24,"v":-0.9},{"r":"C2","a":24,"b":35,"v":-1.0},{"r":"C2","a":35,"b":50,"v":-0.85},{"r":"C2","a":50,"b":65,"v":-0.95},{"r":"C2","a":65,"b":72,"v":-0.5},{"r":"C2","a":72,"b":78,"v":-1.1},{"r":"C2","a":78,"b":84,"v":-0.9},{"r":"C2","a":84,"b":95,"v":1.0},{"r":"C2","a":95,"b":110,"v":1.35},{"r":"C2","a":110,"b":120,"v":1.45},{"r":"C2","a":120,"b":128,"v":1.0},{"r":"C2","a":128,"b":132,"v":1.45},{"r":"C2","a":132,"b":142,"v":1.55},{"r":"C2","a":142,"b":150,"v":0.6},{"r":"C2","a":150,"b":158,"v":0.1},{"r":"C2","a":158,"b":165,"v":0.2},{"r":"C2","a":165,"b":172,"v":0.1},{"r":"C2","a":172,"b":182,"v":0.35},{"r":"C2","a":182,"b":195,"v":1.05},{"r":"C2","a":195,"b":210,"v":0.9},{"r":"C2","a":210,"b":225,"v":0.75},{"r":"C2","a":225,"b":227,"v":0.2},{"r":"C2","a":227,"b":247,"v":1.05},{"r":"C2","a":247,"b":262,"v":0.7},{"r":"C2","a":262,"b":272,"v":0.8},{"r":"C2","a":272,"b":280,"v":0.55},{"r":"C2","a":280,"b":287,"v":0.4},{"r":"C2","a":287,"b":295,"v":0.5},{"r":"C2","a":295,"b":300,"v":0.8}]
},
"hconcat":[
{"bounds":"flush","spacing":0,"vconcat":[
{"width":306,"height":66.7,"encoding":{"x":{"field":"c1","type":"quantitative","scale":{"domain":[-69.6,69],"nice":false,"zero":false},"axis":{"title":"Component 1 (89.2%)","values":[-65,-60,-55,-50,-45,-40,-35,-30,-25,-20,-15,-10,-5,0,5,10,15,20,25,30,35,40,45,50,55,60,65],"labelExpr":"datum.value%20==0?datum.label:''","labelFontSize":7,"titleFontSize":9,"titleFontWeight":"normal","titlePadding":2,"tickSize":2.5,"domainColor":"#555","tickColor":"#555","labelColor":"#333","labelPadding":1,"labelOverlap":false}},"y":{"field":"c2","type":"quantitative","scale":{"domain":[-18.37,22.9],"nice":false,"zero":false},"axis":{"title":"Component 2 (4.3%)","values":[-15,-10,-5,0,5,10,15,20],"labelExpr":"datum.value%20==0?datum.label:''","labelAngle":-90,"labelAlign":"center","labelBaseline":"bottom","labelFontSize":7,"titleFontSize":8,"titleFontWeight":"normal","titlePadding":2,"tickSize":2.5,"domainColor":"#555","tickColor":"#555","labelColor":"#333","labelPadding":1,"labelOverlap":false}}},
"layer":[
{"data":{"values":[{"c1":-56.2,"c2":14.8},{"c1":-63,"c2":-1},{"c1":-52.5,"c2":-13}]},"mark":{"type":"point","shape":"circle","filled":false,"size":14,"stroke":"#2f9e58","strokeWidth":1}},
{"data":{"values":[{"c1":62.7,"c2":21.4},{"c1":53.8,"c2":-7},{"c1":53.9,"c2":-15.7}]},"mark":{"type":"point","shape":"square","filled":false,"size":18,"stroke":"#ee3b3b","strokeWidth":1}},
{"data":{"values":[{"c1":-53.8,"c2":12.8,"t":"C2","k":"g"},{"c1":-61,"c2":-2.9,"t":"C1","k":"g"},{"c1":-50.3,"c2":-12.8,"t":"C3","k":"g"},{"c1":56,"c2":17.7,"t":"T1","k":"r"},{"c1":55.6,"c2":-2,"t":"T2","k":"r"},{"c1":57,"c2":-14,"t":"T3","k":"r"}]},"mark":{"type":"text","align":"left","baseline":"middle","fontSize":9.5},"encoding":{"text":{"field":"t"},"color":{"field":"k","type":"nominal","legend":null,"scale":{"domain":["g","r"],"range":["#2f9e58","#ee3b3b"]}}}},
{"data":{"values":[{"c1":-79.7,"c2":24.5,"t":"a"}]},"mark":{"type":"text","align":"left","baseline":"middle","fontSize":10,"fontWeight":"bold","color":"black"},"encoding":{"text":{"field":"t"}}}
]},
{"width":306,"height":48,"data":{"values":[{"k":1}]},"mark":{"type":"rect","opacity":0}},
{"width":306,"height":19.8,"encoding":{"x":{"field":"v","type":"quantitative","scale":{"domain":[-1.632,1.632],"nice":false,"zero":false},"axis":{"orient":"top","title":"Intensity","values":[-1.6,-1.4,-1.2,-1,-0.8,-0.6,-0.4,-0.2,0,0.2,0.4,0.6,0.8,1,1.2,1.4,1.6],"format":".1f","labelFontSize":5,"labelColor":"#444","titleFontSize":8,"titleFontWeight":"normal","titlePadding":2,"tickSize":2.5,"domainColor":"#888","domainWidth":1.5,"tickColor":"#666","labelPadding":1,"labelOverlap":false}},"y":{"field":"h","type":"quantitative","scale":{"domain":[0,1],"nice":false,"zero":false},"axis":null}},
"layer":[
{"data":{"values":[{"v":-1.632,"v2":1.632,"h":0,"h2":0.38}]},"mark":{"type":"rect","fill":{"gradient":"linear","x1":0,"x2":1,"y1":0,"y2":0,"stops":[{"offset":0,"color":"#6cbd55"},{"offset":0.17,"color":"#23a84f"},{"offset":0.28,"color":"#117c45"},{"offset":0.5,"color":"#000000"},{"offset":0.716,"color":"#7a1a1a"},{"offset":0.967,"color":"#ee3124"},{"offset":1,"color":"#ee3124"}]}},"encoding":{"x2":{"field":"v2"},"y2":{"field":"h2"}}},
{"data":{"values":[{"v":-1.54,"h":0.38,"h2":1},{"v":0,"h":0.38,"h2":1},{"v":1.54,"h":0.38,"h2":1}]},"mark":{"type":"rule","color":"#555","strokeWidth":1.2},"encoding":{"y2":{"field":"h2"}}}
]},
{"width":306,"height":5.2,"data":{"values":[{"k":1}]},"mark":{"type":"rect","opacity":0}},
{"width":306,"height":156.6,"data":{"name":"hm"},"mark":{"type":"rect"},"encoding":{"y":{"field":"r","type":"nominal","title":null,"scale":{"domain":["T1","T2","T3","C1","C3","C2"],"paddingInner":0,"paddingOuter":0},"axis":{"domain":false,"ticks":false,"labelFontSize":9,"labelPadding":2,"labelColor":"#222"}},"x":{"field":"a","type":"quantitative","scale":{"domain":[-2.7,303.3],"nice":false,"zero":false},"axis":null},"x2":{"field":"b"},"color":{"field":"v","type":"quantitative","legend":null,"scale":{"domain":[-1.9,-1.3,-0.8,-0.1,0.55,1.4],"range":["#6cbd55","#23a84f","#117c45","#120806","#7a1a1a","#ee3124"],"interpolate":"rgb","clamp":true}}}},
{"width":306,"height":27.4,"data":{"values":[{"k":1}]},"mark":{"type":"rect","opacity":0}},
{"width":306,"height":81,"encoding":{"x":{"field":"p","type":"quantitative","scale":{"domain":[-0.126,5.073],"nice":false,"zero":false},"axis":null},"y":{"field":"v","type":"quantitative","scale":{"domain":[-1.711,1.636],"nice":false,"zero":false},"axis":{"title":null,"values":[-1,0,1],"domain":false,"ticks":false,"labelFontSize":3.5,"labelPadding":-3,"labelColor":"#555"}}},
"layer":[
{"data":{"values":[{"p":0,"v":-0.06,"w":-1.68,"s":"a"},{"p":0.25,"v":-0.47,"w":-1.28,"s":"a"},{"p":0.5,"v":-0.6,"w":-1.19,"s":"a"},{"p":0.75,"v":-0.47,"w":-1.3,"s":"a"},{"p":1,"v":-0.1,"w":-1.7,"s":"a"},{"p":1.25,"v":-0.44,"w":-1.28,"s":"a"},{"p":1.5,"v":-0.54,"w":-1.19,"s":"a"},{"p":1.75,"v":-0.44,"w":-1.28,"s":"a"},{"p":2,"v":-0.14,"w":-1.68,"s":"a"},{"p":3,"v":-0.05,"w":-1.65,"s":"b"},{"p":3.25,"v":-0.35,"w":-1.28,"s":"b"},{"p":3.5,"v":-0.49,"w":-1.19,"s":"b"},{"p":3.75,"v":-0.37,"w":-1.3,"s":"b"},{"p":4,"v":-0.1,"w":-1.7,"s":"b"},{"p":4.25,"v":-0.42,"w":-1.3,"s":"b"},{"p":4.5,"v":-0.54,"w":-1.22,"s":"b"},{"p":4.75,"v":-0.39,"w":-1.33,"s":"b"},{"p":5,"v":-0.1,"w":-1.6,"s":"b"},{"p":0,"v":1.62,"w":0.02,"s":"c"},{"p":0.25,"v":1.34,"w":0.34,"s":"c"},{"p":0.5,"v":1.2,"w":0.52,"s":"c"},{"p":0.75,"v":1.3,"w":0.32,"s":"c"},{"p":1,"v":1.58,"w":0,"s":"c"},{"p":1.25,"v":1.29,"w":0.26,"s":"c"},{"p":1.5,"v":1.18,"w":0.38,"s":"c"},{"p":1.75,"v":1.24,"w":0.26,"s":"c"},{"p":2,"v":1.42,"w":-0.02,"s":"c"}]},"mark":{"type":"area","color":"#b5b5b5"},"encoding":{"y2":{"field":"w"},"detail":{"field":"s"}}},
{"data":{"values":[{"p":0,"v":-0.15,"w":-1.39},{"p":0.25,"v":-0.5,"w":-1.25},{"p":0.5,"v":-0.63,"w":-1.16},{"p":0.75,"v":-0.5,"w":-1.27},{"p":1,"v":-0.15,"w":-1.46},{"p":1.25,"v":-0.47,"w":-1.25},{"p":1.5,"v":-0.57,"w":-1.16},{"p":1.75,"v":-0.47,"w":-1.25},{"p":2,"v":-0.22,"w":-1.39},{"p":3,"v":1.6,"w":-0.02},{"p":3.25,"v":1.3,"w":0.2},{"p":3.5,"v":1.18,"w":0.4},{"p":3.75,"v":1.3,"w":0.2},{"p":4,"v":1.57,"w":0.05},{"p":4.25,"v":1.3,"w":0.25},{"p":4.5,"v":1.18,"w":0.4},{"p":4.75,"v":1.3,"w":0.2},{"p":5,"v":1.57,"w":-0.02}]},"mark":{"type":"area","color":"#128049"},"encoding":{"y2":{"field":"w"}}},
{"data":{"values":[{"p":0,"v":1.6,"w":0.12},{"p":0.25,"v":1.32,"w":0.36},{"p":0.5,"v":1.18,"w":0.54},{"p":0.75,"v":1.28,"w":0.34},{"p":1,"v":1.5,"w":0.08},{"p":1.25,"v":1.27,"w":0.28},{"p":1.5,"v":1.16,"w":0.4},{"p":1.75,"v":1.22,"w":0.28},{"p":2,"v":1.36,"w":0.05},{"p":3,"v":-0.11,"w":-1.39},{"p":3.25,"v":-0.38,"w":-1.25},{"p":3.5,"v":-0.52,"w":-1.16},{"p":3.75,"v":-0.4,"w":-1.27},{"p":4,"v":-0.22,"w":-1.39},{"p":4.25,"v":-0.45,"w":-1.27},{"p":4.5,"v":-0.57,"w":-1.19},{"p":4.75,"v":-0.42,"w":-1.3},{"p":5,"v":-0.15,"w":-1.53}]},"mark":{"type":"area","color":"#ee3232"},"encoding":{"y2":{"field":"w"}}},
{"data":{"values":[{"p":0,"v":1.6,"w":-1.7},{"p":1,"v":1.6,"w":-1.7},{"p":2,"v":1.6,"w":-1.7},{"p":3,"v":1.6,"w":-1.6},{"p":4,"v":1.6,"w":-1.7},{"p":5,"v":1.6,"w":-1.6}]},"mark":{"type":"rule","color":"#a0a0a0","strokeWidth":1.5},"encoding":{"y2":{"field":"w"}}},
{"data":{"values":[{"p":0,"v":1.92,"t":"T1"},{"p":1,"v":1.92,"t":"T2"},{"p":2,"v":1.92,"t":"T3"},{"p":3,"v":1.92,"t":"C1"},{"p":4,"v":1.92,"t":"C2"},{"p":5,"v":1.92,"t":"C3"}]},"mark":{"type":"text","fontSize":8.5,"color":"#333"},"encoding":{"text":{"field":"t"}}}
]},
{"width":306,"height":17,"data":{"values":[{"k":1}]},"mark":{"type":"rect","opacity":0}},
{"width":564.1,"height":465,"encoding":{"x":{"field":"x","type":"quantitative","scale":{"domain":[24.3,588.4],"nice":false,"zero":false},"axis":null},"y":{"field":"p","type":"quantitative","scale":{"domain":[20,-0.88],"nice":false,"zero":false},"axis":null}},
"layer":[
{"data":{"values":[{"x":3.6,"x2":588.4,"p":-0.88},{"x":3.6,"x2":588.4,"p":0},{"x":3.6,"x2":588.4,"p":1},{"x":3.6,"x2":588.4,"p":2},{"x":3.6,"x2":588.4,"p":3},{"x":3.6,"x2":588.4,"p":4},{"x":3.6,"x2":588.4,"p":5},{"x":3.6,"x2":588.4,"p":6},{"x":3.6,"x2":588.4,"p":7},{"x":3.6,"x2":588.4,"p":8},{"x":3.6,"x2":588.4,"p":9},{"x":3.6,"x2":588.4,"p":10},{"x":3.6,"x2":588.4,"p":11},{"x":3.6,"x2":588.4,"p":12},{"x":3.6,"x2":588.4,"p":13},{"x":3.6,"x2":588.4,"p":14},{"x":3.6,"x2":588.4,"p":15},{"x":3.6,"x2":588.4,"p":16},{"x":3.6,"x2":588.4,"p":17},{"x":3.6,"x2":588.4,"p":18},{"x":3.6,"x2":588.4,"p":19},{"x":3.6,"x2":588.4,"p":20}]},"mark":{"type":"rule","color":"#3a3a3a","strokeWidth":1},"encoding":{"x2":{"field":"x2"}}},
{"data":{"values":[{"x":3.6,"p":-0.88,"p2":20},{"x":25.9,"p":-0.88,"p2":20},{"x":79.5,"p":-0.88,"p2":20},{"x":269.6,"p":-0.88,"p2":20},{"x":295,"p":-0.88,"p2":20},{"x":349.6,"p":-0.88,"p2":20},{"x":588.4,"p":-0.88,"p2":20}]},"mark":{"type":"rule","color":"#3a3a3a","strokeWidth":1},"encoding":{"y2":{"field":"p2"}}},
{"data":{"name":"tbl"},"transform":[{"filter":"datum.a=='l'"}],"mark":{"type":"text","font":"Liberation Serif","fontSize":8.8,"align":"left","baseline":"middle"},"encoding":{"text":{"field":"t"},"color":{"field":"k","type":"nominal","legend":null,"scale":{"domain":["n","b","r","g"],"range":["#1a1a1a","#3b55a5","#ee3b3b","#2fa85a"]}}}},
{"data":{"name":"tbl"},"transform":[{"filter":"datum.a=='c'"}],"mark":{"type":"text","font":"Liberation Serif","fontSize":8.8,"align":"center","baseline":"middle"},"encoding":{"text":{"field":"t"},"color":{"field":"k","type":"nominal","legend":null,"scale":{"domain":["n","b","r","g"],"range":["#1a1a1a","#3b55a5","#ee3b3b","#2fa85a"]}}}},
{"data":{"name":"tbl"},"transform":[{"filter":"datum.a=='r'"}],"mark":{"type":"text","font":"Liberation Serif","fontSize":8.4,"align":"right","baseline":"middle"},"encoding":{"text":{"field":"t"},"color":{"field":"k","type":"nominal","legend":null,"scale":{"domain":["n","b","r","g"],"range":["#1a1a1a","#3b55a5","#ee3b3b","#2fa85a"]}}}},
{"data":{"name":"tbl"},"transform":[{"filter":"datum.a=='h'"}],"mark":{"type":"text","font":"Liberation Serif","fontSize":8,"fontWeight":"bold","align":"center","baseline":"middle","color":"#111"},"encoding":{"text":{"field":"t"}}},
{"data":{"values":[{"x":3,"p":-1.36,"t":"d"},{"x":3,"p":-5.58,"t":"c"},{"x":3,"p":-14.6,"t":"b"}]},"mark":{"type":"text","font":"Liberation Sans","fontSize":10,"fontWeight":"bold","align":"left","baseline":"middle","color":"black"},"encoding":{"text":{"field":"t"}}}
]}
]},
{"width":328,"height":358.7,"encoding":{"x":{"field":"x","type":"quantitative","scale":{"domain":[-7.35,7.29],"nice":false,"zero":false},"axis":{"title":"Log2 Fold Chage (8n/DMSO)","values":[-6,-4,-2,0,2,4,6],"labelFontSize":7,"titleFontSize":9.5,"titleFontWeight":"normal","titlePadding":3,"tickSize":3,"domainColor":"#777","domainWidth":1.5,"tickColor":"#666","labelColor":"#333","labelPadding":5}},"y":{"field":"y","type":"quantitative","scale":{"domain":[1.575,6.1],"range":[358.7,35.3],"nice":false,"zero":false},"axis":{"title":"-Log Student's T-test p-value (8n/DMSO)","values":[2,3,4,5,6],"labelAngle":-90,"labelAlign":"center","labelBaseline":"bottom","labelFontSize":7,"titleFontSize":9.5,"titleFontWeight":"normal","titlePadding":2,"tickSize":3,"domainColor":"#777","domainWidth":1.5,"tickColor":"#666","labelColor":"#333","labelPadding":2}}},
"layer":[
{"data":{"values":[{"y":3.62,"x":-1.0,"x2":-0.5},{"y":3.45,"x":-1.2,"x2":-0.42},{"y":3.3,"x":-1.3,"x2":-0.38},{"y":3.1,"x":-1.25,"x2":-0.3},{"y":2.9,"x":-1.25,"x2":-0.22},{"y":2.7,"x":-1.35,"x2":-0.18},{"y":2.5,"x":-1.55,"x2":-0.15},{"y":2.3,"x":-1.85,"x2":-0.15},{"y":2.1,"x":-2.15,"x2":-0.12},{"y":1.95,"x":-2.35,"x2":-0.1},{"y":1.78,"x":-2.75,"x2":-0.08}]},"mark":{"type":"area","orient":"horizontal","color":"#ababab"},"encoding":{"x2":{"field":"x2"}}},
{"data":{"values":[{"y":2.55,"x":0.35,"x2":0.45},{"y":2.45,"x":0.32,"x2":0.6},{"y":2.3,"x":0.28,"x2":0.85},{"y":2.1,"x":0.25,"x2":1.1},{"y":1.95,"x":0.2,"x2":1.3},{"y":1.78,"x":0.18,"x2":1.4}]},"mark":{"type":"area","orient":"horizontal","color":"#ababab"},"encoding":{"x2":{"field":"x2"}}},
{"data":{"name":"pts"},"mark":{"type":"point","shape":"square","filled":false,"size":11,"stroke":"#a8a8a8","strokeWidth":0.8,"opacity":1}},
{"data":{"values":[{"x":0,"y":1.575,"y2":6.1}]},"mark":{"type":"rule","color":"#666","strokeWidth":1.5},"encoding":{"y2":{"field":"y2"}}},
{"data":{"values":[{"x":1.04,"y":2.93},{"x":1.49,"y":2.68},{"x":1.34,"y":2.42},{"x":1.34,"y":2.29},{"x":1.07,"y":2.07},{"x":1.62,"y":2.03},{"x":1.07,"y":1.98},{"x":3.26,"y":2.0}]},"mark":{"type":"point","shape":"square","filled":true,"size":34,"color":"#ee2c2c","opacity":1}},
{"data":{"values":[{"x":1.32,"y":2.9},{"x":1.1,"y":2.78},{"x":1.71,"y":2.5},{"x":1.86,"y":2.32},{"x":1.1,"y":2.19},{"x":1.04,"y":1.91},{"x":1.18,"y":1.89}]},"mark":{"type":"point","shape":"circle","filled":true,"size":28,"color":"#62bd4f","opacity":1}},
{"data":{"values":[{"x":5.11,"y":4.11,"t":"– CXCL9","k":"b"},{"x":0.92,"y":3.21,"t":"– TNFSF4","k":"b"},{"x":3.66,"y":3.08,"t":"– CXCL10","k":"b"},{"x":2.69,"y":2.9,"t":"_CCL22","k":"b"},{"x":1.22,"y":2.615,"t":"– AIM2","k":"b"},{"x":0.06,"y":2.55,"t":"IGLV1-51","k":"b"},{"x":0.33,"y":2.46,"t":"TLR4","k":"b"},{"x":3.72,"y":2.45,"t":"– CCL3","k":"b"},{"x":0,"y":2.27,"t":"SAMHD1","k":"b"},{"x":1.55,"y":2.16,"t":"CCL4L1","k":"b"},{"x":1.85,"y":2.09,"t":"CXCL11","k":"b"},{"x":3.57,"y":2.07,"t":"– CCL4","k":"b"},{"x":1.22,"y":3.0,"t":"MUS81","k":"r"},{"x":1.7,"y":2.69,"t":"XRCC2","k":"r"},{"x":1.52,"y":2.42,"t":"NABP2","k":"r"},{"x":1.4,"y":2.23,"t":"FANCD2","k":"r"},{"x":0.25,"y":2.09,"t":"POLQ","k":"r"},{"x":1.82,"y":2.0,"t":"TDG","k":"r"},{"x":1.25,"y":1.95,"t":"XRCC3","k":"r"},{"x":3.3,"y":1.93,"t":"TREX2","k":"r"},{"x":1.52,"y":2.9,"t":"CLSPN","k":"g"},{"x":1.32,"y":2.79,"t":"CDC6","k":"g"},{"x":1.88,"y":2.52,"t":"MCM10","k":"g"},{"x":2.04,"y":2.35,"t":"GINS4","k":"g"},{"x":1.1,"y":2.2,"t":"C10ORF2","k":"g"},{"x":1.25,"y":2.13,"t":"GINS3","k":"g"},{"x":0.21,"y":1.91,"t":"RRM2","k":"g"},{"x":0.36,"y":1.81,"t":"CHTF18","k":"g"}]},"mark":{"type":"text","align":"left","baseline":"middle","fontSize":8.5},"encoding":{"text":{"field":"t"},"color":{"field":"k","type":"nominal","legend":null,"scale":{"domain":["b","r","g"],"range":["#4a5fb0","#ee3b3b","#6cc04a"]}}}},
{"data":{"values":[{"x":-7.65,"y":6.44,"t":"e"}]},"mark":{"type":"text","align":"left","baseline":"middle","fontSize":10,"fontWeight":"bold","color":"black"},"encoding":{"text":{"field":"t"}}}
]}
],"bounds":"flush","spacing":346.4}
